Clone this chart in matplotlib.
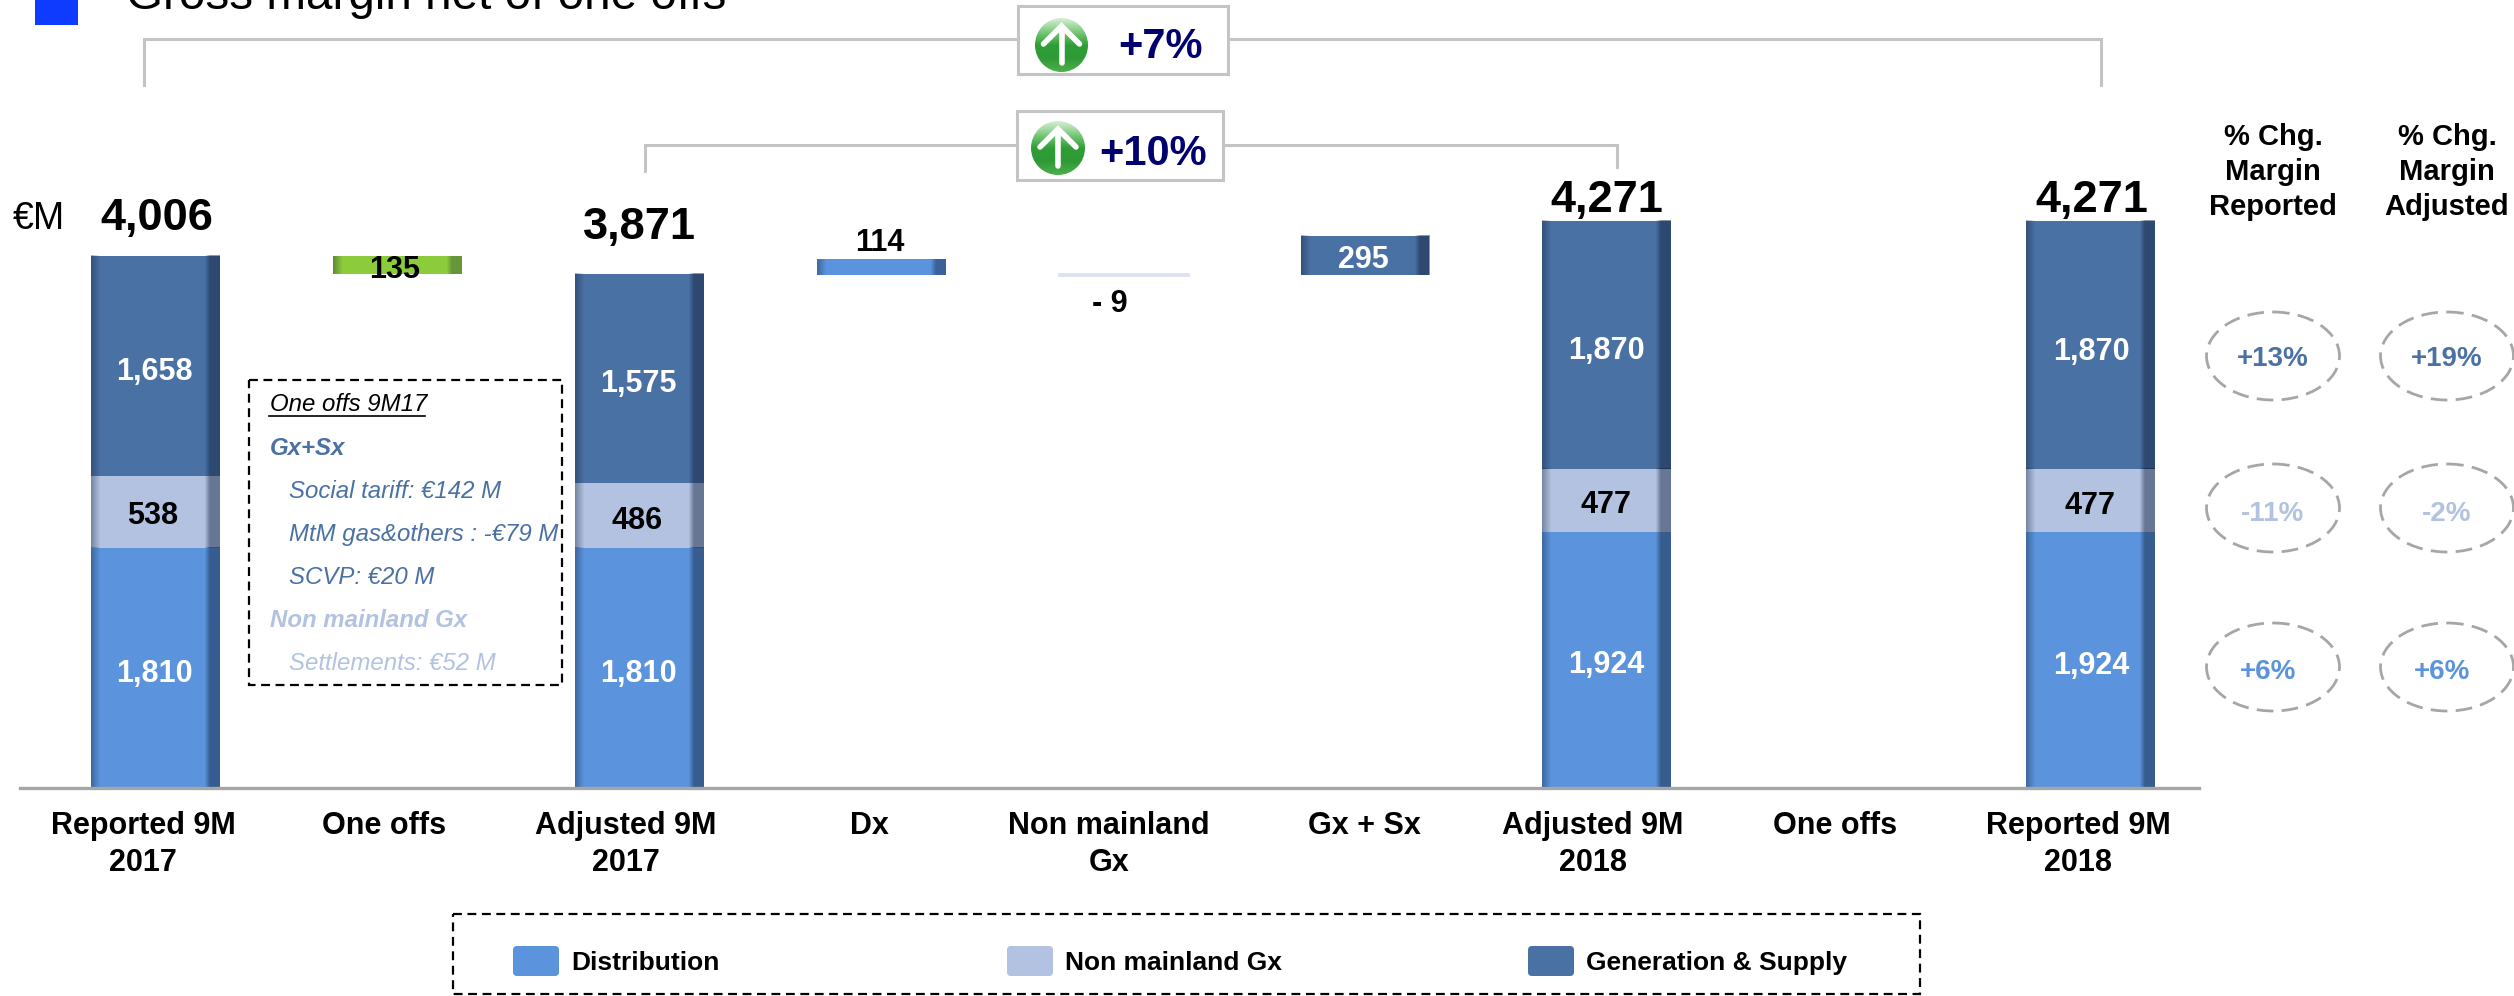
import numpy as np
import matplotlib
matplotlib.use('Agg')
import matplotlib.pyplot as plt
from matplotlib.colors import LinearSegmentedColormap
from matplotlib.patches import Ellipse, FancyBboxPatch, Rectangle

plt.rcParams['font.family'] = ['Liberation Sans', 'DejaVu Sans']

W, H = 2514, 996

# stacked bars
stack_pos = [0, 2, 6, 8]
distribution = [1810, 1810, 1924, 1924]
non_mainland = [538, 486, 477, 477]
gen_supply = [1658, 1575, 1870, 1870]
totals = ['4,006', '3,871', '4,271', '4,271']

# floating bars
delta_pos = [1, 3, 4, 5]
delta_values = [135, 114, 9, 295]
delta_bottoms = [3871, 3866, 3862, 3862]
delta_labels = ['135', '114', '- 9', '295']

categories = ['Reported 9M\n2017', 'One offs', 'Adjusted 9M\n2017', 'Dx', 'Non mainland\nGx',
              'Gx + Sx', 'Adjusted 9M\n2018', 'One offs', 'Reported 9M\n2018']
category_x = [143, 384, 626, 869, 1109, 1364, 1593, 1835, 2078]

legend_names = ['Distribution', 'Non mainland Gx', 'Generation & Supply']
chg_headers = ['% Chg.\nMargin\nReported', '% Chg.\nMargin\nAdjusted']
chg_reported = ['+13%', '-11%', '+6%']
chg_adjusted = ['+19%', '-2%', '+6%']

BLUE = '#5B94DC'
PALE = '#B2C2E0'
DARK = '#4A71A4'
GREEN = '#8CCB3C'

fig = plt.figure(figsize=(W / 100, H / 100), dpi=100)

# bars: x in bar slots, y in EUR M, baseline at pixel row 788
ax = fig.add_axes([0, 0, 1, 1])
ax.axis('off')
px_per_slot = 241.9
px_per_unit = 0.1328
xlim = (-155.5 / px_per_slot, (W - 155.5) / px_per_slot)
ylim = (-(H - 788) / px_per_unit, 788 / px_per_unit)

# everything else: pixel coordinates
ov = fig.add_axes([0, 0, 1, 1])
ov.axis('off')
ov.patch.set_alpha(0)
ov.set_xlim(0, W)
ov.set_ylim(H, 0)


def shade(bar, right_alpha=0.45):
	# darker strip on the right edge, soft one on the left
	x0, x1 = bar.get_x(), bar.get_x() + bar.get_width()
	y0, y1 = bar.get_y(), bar.get_y() + bar.get_height()
	t = np.linspace(0, 1, 129)
	alpha = np.zeros_like(t)
	alpha[t < 0.07] = 0.35 * (1 - t[t < 0.07] / 0.07)
	alpha[t > 0.885] = right_alpha * np.clip((t[t > 0.885] - 0.885) / 0.04, 0, 1)
	rgba = np.zeros((1, t.size, 4))
	rgba[..., 0] = 0.05
	rgba[..., 1] = 0.1
	rgba[..., 2] = 0.2
	rgba[..., 3] = alpha
	ax.imshow(rgba, extent=(x0, x1, y0, y1), aspect='auto', zorder=3, interpolation='bilinear')


def draw_bars():
	width = 0.533
	d = ax.bar(stack_pos, distribution, width, color=BLUE, zorder=2)
	n = ax.bar(stack_pos, non_mainland, width, bottom=distribution, color=PALE, zorder=2)
	bottoms = np.array(distribution) + np.array(non_mainland)
	g = ax.bar(stack_pos, gen_supply, width, bottom=bottoms, color=DARK, zorder=2)
	for bar in list(d) + list(n) + list(g):
		shade(bar)

	colors = [GREEN, BLUE, '#DCE2EF', DARK]
	f = ax.bar(delta_pos, delta_values, width, bottom=delta_bottoms, color=colors, zorder=2)
	f[2].set_edgecolor('#DCE2EF')
	f[2].set_linewidth(2)
	shade(f[0], 0.3)
	shade(f[1], 0.4)
	shade(f[3], 0.45)

	ax.set_xlim(xlim)
	ax.set_ylim(ylim)


def gradient_ellipse(x0, x1, y0, y1):
	cmap = LinearSegmentedColormap.from_list('g', ['#D5EFD5', '#7CC97C', '#2F9E35', '#2F9A35', '#4DB04D'])
	grad = np.linspace(0, 1, 64).reshape(-1, 1)
	im = ov.imshow(grad, cmap=cmap, extent=(x0, x1, y1, y0), aspect='auto', zorder=5)
	clip = Ellipse(((x0 + x1) / 2, (y0 + y1) / 2), x1 - x0, y1 - y0, transform=ov.transData,
		facecolor='none', edgecolor='none')
	ov.add_patch(clip)
	im.set_clip_path(clip)
	cx, cy = (x0 + x1) / 2, (y0 + y1) / 2
	ov.plot([cx, cx], [cy + 18, cy - 18], color='white', lw=4, solid_capstyle='round', zorder=6)
	ov.plot([cx - 18, cx, cx + 18], [cy - 1, cy - 19, cy - 1], color='white', lw=4,
		solid_capstyle='round', solid_joinstyle='miter', zorder=6)


def draw_brackets():
	line = dict(color='#C4C4C4', lw=2.2, zorder=1, solid_joinstyle='miter')
	ov.plot([144, 144, 2101, 2101], [85, 39, 39, 85], **line)
	ov.plot([645, 645, 1617, 1617], [171, 145, 145, 167], **line)
	for x0, x1, y0, y1 in [(1018, 1228, 6, 74), (1017, 1223, 111, 180)]:
		ov.add_patch(Rectangle((x0, y0), x1 - x0, y1 - y0, facecolor='white', edgecolor='#C4C4C4',
			lw=2.2, zorder=4))
	gradient_ellipse(1035, 1088, 18, 72)
	gradient_ellipse(1031, 1085, 121, 175)
	ov.text(1160, 47, '+7%', color='#00006E', fontsize=30, fontweight='bold', ha='center', va='center', zorder=6)
	ov.text(1153, 154, '+10%', color='#00006E', fontsize=30, fontweight='bold', ha='center', va='center', zorder=6)


def draw_labels():
	big = dict(fontsize=32.5, fontweight='bold', ha='center', va='center', color='black', zorder=6)
	for x, y, t in zip([157, 639, 1607, 2092], [218, 227, 200, 200], totals):
		ov.text(x, y, t, **big)

	seg = dict(fontsize=22, fontweight='bold', ha='center', va='center', zorder=6)
	for x, y, v in zip([154, 638, 1606, 2091], [674, 674, 665, 666], distribution):
		ov.text(x, y, f'{v:,}', color='white', **seg)
	for x, y, v in zip([153, 637, 1606, 2090], [516, 521, 505, 506], non_mainland):
		ov.text(x, y, f'{v:,}', color='black', **seg)
	for x, y, v in zip([154, 638, 1606, 2091], [372, 384, 351, 352], gen_supply):
		ov.text(x, y, f'{v:,}', color='white', **seg)

	for x, y, t, c in zip([395, 880, 1110, 1363], [270, 243, 304, 260], delta_labels,
			['black', 'black', 'black', 'white']):
		ov.text(x, y, t, color=c, **seg)

	ov.text(39, 219, '€M', fontsize=27, ha='center', va='center', zorder=6)

	for x, t in zip(category_x, categories):
		ov.text(x, 811, t, fontsize=22, fontweight='bold', ha='center', va='top', linespacing=1.3, zorder=6)

	# clipped slide title
	ov.add_patch(Rectangle((35, 0), 43, 25, facecolor='#0F3AFF', edgecolor='none', zorder=6))
	ov.text(126, 9, 'Gross margin net of one offs', fontsize=34.3, ha='left', va='baseline', zorder=6)
	ov.plot([20, 2199], [788, 788], color='#A6A6A6', lw=2.4, zorder=6)


def draw_info_box():
	ov.add_patch(Rectangle((249, 380), 313, 305, facecolor='none', edgecolor='black', lw=1.6,
		linestyle=(0, (4, 2.5)), zorder=6))
	ital = dict(fontsize=17.3, style='italic', va='center', ha='left', zorder=6)
	ov.text(270, 404, 'One offs 9M17', color='black', **ital)
	ov.plot([269, 425], [416, 416], color='black', lw=1.2, zorder=6)
	ov.text(270, 448, 'Gx+Sx', color=DARK, fontweight='bold', **ital)
	ov.text(289, 491, 'Social tariff: €142 M', color=DARK, **ital)
	ov.text(289, 534, 'MtM gas&others : -€79 M', color=DARK, **ital)
	ov.text(289, 577, 'SCVP: €20 M', color=DARK, **ital)
	ov.text(270, 620, 'Non mainland Gx', color=PALE, fontweight='bold', **ital)
	ov.text(289, 663, 'Settlements: €52 M', color=PALE, **ital)


def draw_legend():
	ov.add_patch(Rectangle((453, 914), 1467, 80, facecolor='none', edgecolor='black', lw=1.6,
		linestyle=(0, (4, 2.5)), zorder=6))
	for x, c, t in zip([513, 1007, 1528], [BLUE, PALE, DARK], legend_names):
		ov.add_patch(FancyBboxPatch((x + 3, 949), 40, 24, boxstyle='round,pad=3,rounding_size=4',
			facecolor=c, edgecolor='none', zorder=6))
		ov.text(x + 58, 963, t, fontsize=19, fontweight='bold', ha='left', va='center', zorder=6)


def draw_change_columns():
	colors = [DARK, PALE, BLUE]
	rows = [356, 508, 667]
	text_y = [359, 514, 672]
	for x, head, vals, offs in zip([2273, 2447], chg_headers, [chg_reported, chg_adjusted], [[0, 0, -5], [0, 0, -5]]):
		ov.text(x, 172, head, fontsize=21, fontweight='bold', ha='center', va='center', linespacing=1.3, zorder=6)
		for r, ty, v, c, o in zip(rows, text_y, vals, colors, offs):
			ov.add_patch(Ellipse((x, r), 133, 88, facecolor='none', edgecolor='#A6A6A6', lw=2,
				linestyle=(0, (6, 3)), zorder=6))
			ov.text(x + o, ty, v, color=c, fontsize=20, fontweight='bold', ha='center', va='center', zorder=6)


draw_bars()
draw_brackets()
draw_labels()
draw_info_box()
draw_legend()
draw_change_columns()
ov.set_xlim(0, W)
ov.set_ylim(H, 0)

plt.savefig('out.png', dpi=100)
